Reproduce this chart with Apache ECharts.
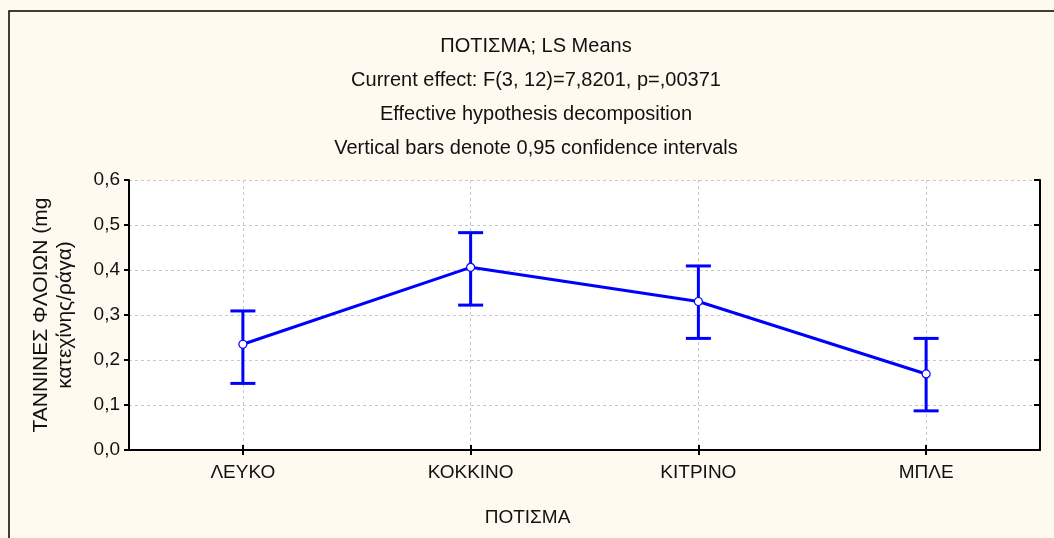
<!DOCTYPE html>
<html>
<head>
<meta charset="utf-8">
<script src="https://cdn.jsdelivr.net/npm/echarts@6/dist/echarts.min.js"></script>
<style>
html,body{margin:0;padding:0;background:#fefaef;}
#c{width:1054px;height:538px;}
</style>
</head>
<body>
<div id="c"></div>
<script>
const categories = ['ΛΕΥΚΟ', 'ΚΟΚΚΙΝΟ', 'ΚΙΤΡΙΝΟ', 'ΜΠΛΕ'];
const means = [0.235, 0.406, 0.330, 0.169];
const lower = [0.148, 0.322, 0.248, 0.087];
const upper = [0.309, 0.483, 0.409, 0.248];
const titleLines = [
  'ΠΟΤΙΣΜΑ; LS Means',
  'Current effect: F(3, 12)=7,8201, p=,00371',
  'Effective hypothesis decomposition',
  'Vertical bars denote 0,95 confidence intervals'
];
const xAxisName = 'ΠΟΤΙΣΜΑ';
const yAxisName = 'ΤΑΝΝΙΝΕΣ ΦΛΟΙΩΝ (mg\nκατεχίνης/ράγα)';

const FONT = 'Liberation Sans, Arial, sans-serif';
const FS = 19;
const BLUE = '#0000ff';
const chart = echarts.init(document.getElementById('c'), null, {renderer: 'canvas'});

const errData = categories.map((c, i) => [i, lower[i], upper[i]]);

chart.setOption({
  backgroundColor: '#fefaef',
  animation: false,
  title: {
    text: titleLines.join('\n'),
    left: 531,
    top: 24,
    textAlign: 'center',
    textStyle: {fontFamily: FONT, fontSize: 20, fontWeight: 'normal', color: '#111', lineHeight: 34}
  },
  graphic: [{
    type: 'rect',
    shape: {x: 9, y: 11, width: 1100, height: 600},
    style: {fill: null, stroke: '#000', lineWidth: 1.5},
    silent: true,
    z: 0
  }],
  grid: {left: 129, top: 180, right: 14, bottom: 88, show: true, backgroundColor: '#fff', borderWidth: 0},
  xAxis: [{
    type: 'category',
    data: categories,
    position: 'bottom',
    boundaryGap: true,
    name: xAxisName,
    nameLocation: 'middle',
    nameGap: 58,
    nameTextStyle: {fontFamily: FONT, fontSize: FS, color: '#111', padding: [0, 114, 0, 0]},
    axisLine: {show: true, lineStyle: {color: '#000', width: 2}},
    axisTick: {show: true, inside: true, alignWithLabel: true, length: 5, lineStyle: {color: '#000', width: 2}},
    axisLabel: {fontFamily: FONT, fontSize: FS, color: '#111', margin: 13},
    splitLine: {show: true, alignWithLabel: true, lineStyle: {color: '#c8c8c8', type: [3, 3], width: 1}}
  }, {
    type: 'category',
    data: categories,
    position: 'top',
    boundaryGap: true,
    axisLine: {show: true, lineStyle: {color: '#000', width: 2}},
    axisTick: {show: true, inside: true, alignWithLabel: true, length: 5, lineStyle: {color: '#000', width: 2}},
    axisLabel: {show: false},
    splitLine: {show: false}
  }],
  yAxis: [{
    type: 'value',
    min: 0, max: 0.6, interval: 0.1,
    position: 'left',
    name: yAxisName,
    nameLocation: 'middle',
    nameRotate: 90,
    nameGap: 52,
    nameTextStyle: {fontFamily: FONT, fontSize: 21, color: '#111', lineHeight: 24},
    axisLine: {show: true, lineStyle: {color: '#000', width: 2}},
    axisTick: {show: true, inside: false, length: 5, lineStyle: {color: '#000', width: 2}},
    axisLabel: {fontFamily: FONT, fontSize: FS, color: '#111', margin: 9,
      formatter: v => v.toFixed(1).replace('.', ',')},
    splitLine: {show: true, lineStyle: {color: '#c8c8c8', type: [3, 3], width: 1}}
  }, {
    type: 'value',
    min: 0, max: 0.6, interval: 0.1,
    position: 'right',
    axisLine: {show: true, lineStyle: {color: '#000', width: 2}},
    axisTick: {show: true, inside: true, length: 6, lineStyle: {color: '#000', width: 2}},
    axisLabel: {show: false},
    splitLine: {show: false}
  }],
  series: [{
    type: 'custom',
    xAxisIndex: 0, yAxisIndex: 0,
    data: errData,
    z: 2,
    renderItem: function (params, api) {
      const x = api.value(0);
      const lo = api.coord([x, api.value(1)]);
      const hi = api.coord([x, api.value(2)]);
      const hw = 12.5;
      const st = {stroke: BLUE, lineWidth: 3};
      return {
        type: 'group',
        children: [
          {type: 'line', shape: {x1: lo[0], y1: lo[1], x2: hi[0], y2: hi[1]}, style: st},
          {type: 'line', shape: {x1: lo[0] - hw, y1: lo[1], x2: lo[0] + hw, y2: lo[1]}, style: st},
          {type: 'line', shape: {x1: hi[0] - hw, y1: hi[1], x2: hi[0] + hw, y2: hi[1]}, style: st}
        ]
      };
    }
  }, {
    type: 'line',
    xAxisIndex: 0, yAxisIndex: 0,
    data: means,
    z: 3,
    symbol: 'circle',
    symbolSize: 8,
    showAllSymbol: true,
    lineStyle: {color: BLUE, width: 3},
    itemStyle: {color: '#fff', borderColor: BLUE, borderWidth: 1.2}
  }]
});
</script>
</body>
</html>
